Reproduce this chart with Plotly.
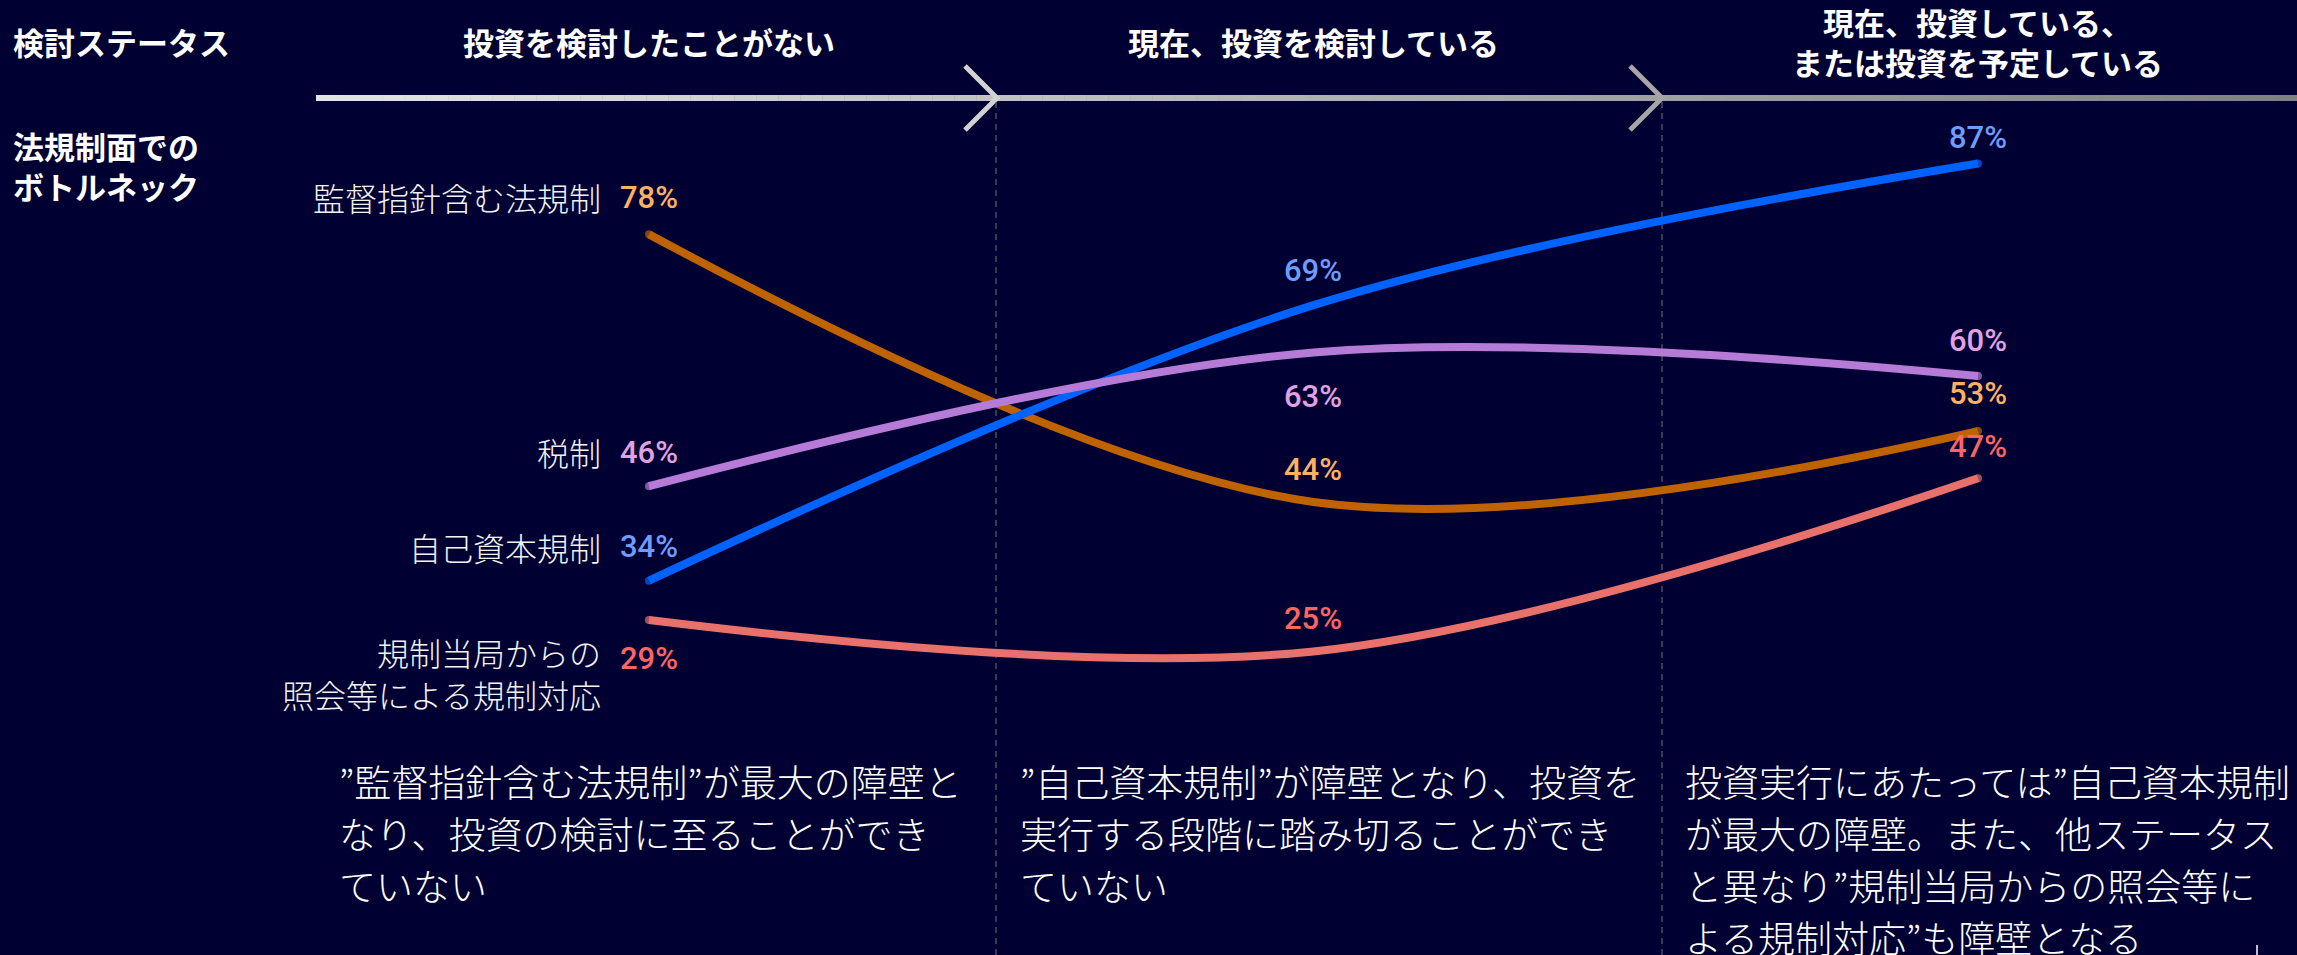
import plotly.graph_objects as go

# ---- data ----
statuses = ["投資を検討したことがない", "現在、投資を検討している", "現在、投資している、<br>または投資を予定している"]
categories = ["監督指針含む法規制", "税制", "自己資本規制", "規制当局からの<br>照会等による規制対応"]
val_regulation = [78, 44, 53]
val_tax = [46, 63, 60]
val_capital = [34, 69, 87]
val_inquiry = [29, 25, 47]

row_header = "検討ステータス"
row_label = "法規制面での<br>ボトルネック"
notes = [
    ["”監督指針含む法規制”が最大の障壁と", "なり、投資の検討に至ることができ", "ていない"],
    ["”自己資本規制”が障壁となり、投資を", "実行する段階に踏み切ることができ", "ていない"],
    ["投資実行にあたっては”自己資本規制", "が最大の障壁。また、他ステータス", "と異なり”規制当局からの照会等に", "よる規制対応”も障壁となる"],
]

# ---- styling ----
W, H = 2297, 955
BG = "#000033"
JP = "Noto Sans CJK JP"
NUM = "Roboto"

series = [
    # values, category index, line colour, label colour, label offsets (px, down positive) per stage
    (val_inquiry, 3, "#E8716C", "#FF6464", [39, -33, -32]),
    (val_regulation, 0, "#BF6200", "#FFB062", [-37, -32, -38]),
    (val_capital, 2, "#0062FF", "#6E9CFF", [-34, -35, -26]),
    (val_tax, 1, "#B67BD6", "#E2A2E2", [-34, 44, -36]),
]
cat_offset = {0: -37, 1: -34, 2: -34, 3: 53}

xs = [0, 1, 2]


def px(x):
    return x / W


def py(y):
    return 1 - y / H


fig = go.Figure()

for vals, ci, lc, tc, offs in series:
    fig.add_trace(go.Scatter(
        x=xs, y=vals, mode="lines+markers",
        line=dict(color=lc, width=8, shape="spline", smoothing=1),
        marker=dict(color=lc, size=[8, 0, 8], line=dict(width=0)),
        hoverinfo="skip", showlegend=False,
    ))

annotations = []

# value labels and category names
for vals, ci, lc, tc, offs in series:
    for i, v in enumerate(vals):
        annotations.append(dict(
            x=xs[i], y=v, xref="x", yref="y", text=f"{v}%", showarrow=False,
            xanchor="center", yanchor="middle", yshift=-offs[i],
            font=dict(family=NUM, size=31, color=tc, weight=500),
        ))
    annotations.append(dict(
        x=0, y=vals[0], xref="x", yref="y", text=categories[ci], showarrow=False,
        xanchor="right", yanchor="middle", align="right", xshift=-46, yshift=-cat_offset[ci],
        font=dict(family=JP, size=32, color="#F2F2F2", weight=300),
    ))

# stage headers
for i, s in enumerate(statuses):
    annotations.append(dict(
        x=xs[i], y=py(42), xref="x", yref="paper", text=s, showarrow=False,
        xanchor="center", yanchor="middle", align="center",
        font=dict(family=JP, size=31, color="#FFFFFF", weight=700),
    ))

annotations.append(dict(
    x=px(11), y=py(42), xref="paper", yref="paper", text=row_header, showarrow=False,
    xanchor="left", yanchor="middle",
    font=dict(family=JP, size=31, color="#FFFFFF", weight=700),
))
annotations.append(dict(
    x=px(11), y=py(165), xref="paper", yref="paper", text=row_label, showarrow=False,
    xanchor="left", yanchor="middle", align="left",
    font=dict(family=JP, size=31, color="#FFFFFF", weight=700),
))

# commentary under each stage
note_left = [337, 1018, 1683]
for col, lines in enumerate(notes):
    for r, line in enumerate(lines):
        annotations.append(dict(
            x=px(note_left[col]), y=py(781 + 52 * r), xref="paper", yref="paper",
            text=line, showarrow=False, xanchor="left", yanchor="middle",
            font=dict(family=JP, size=37, color="#FFFFFF", weight=300),
        ))

shapes = []

# progress arrow with grey gradient
x0, x1, ay = 316, W, 98
n = 90
c0, c1 = (228, 228, 228), (128, 128, 128)
for k in range(n):
    a = x0 + (x1 - x0) * k / n
    b = x0 + (x1 - x0) * (k + 1) / n
    t = (k + 0.5) / n
    c = tuple(round(c0[j] + (c1[j] - c0[j]) * t) for j in range(3))
    shapes.append(dict(type="line", xref="paper", yref="paper",
                       x0=px(a), x1=px(b + 0.5), y0=py(ay), y1=py(ay),
                       line=dict(color=f"rgb{c}", width=6), layer="below"))

for tip, col in [(997, "#D2D2D2"), (1662, "#A6A6A6")]:
    path = f"M {px(tip - 32)},{py(ay - 32)} L {px(tip)},{py(ay)} L {px(tip - 32)},{py(ay + 32)}"
    shapes.append(dict(type="path", xref="paper", yref="paper", path=path,
                       line=dict(color=col, width=5), layer="below"))

# stage separators
for sx in [996, 1662]:
    shapes.append(dict(type="line", xref="paper", yref="paper",
                       x0=px(sx), x1=px(sx), y0=py(ay + 4), y1=0,
                       line=dict(color="#70707C", width=1, dash="6px,5px"), layer="below"))

# small mark at the bottom right edge
shapes.append(dict(type="line", xref="paper", yref="paper",
                   x0=px(2257), x1=px(2257), y0=py(945), y1=0,
                   line=dict(color="#FFFFFF", width=1.5)))

fig.update_layout(
    width=W, height=H,
    margin=dict(l=0, r=0, t=0, b=0),
    paper_bgcolor=BG, plot_bgcolor=BG,
    xaxis=dict(range=[-0.9767, 2.4801], visible=False, fixedrange=True),
    yaxis=dict(range=[-13.57, 107.78], visible=False, fixedrange=True),
    annotations=annotations, shapes=shapes,
    showlegend=False,
)

fig.write_html("out.html", config={"displayModeBar": False})
